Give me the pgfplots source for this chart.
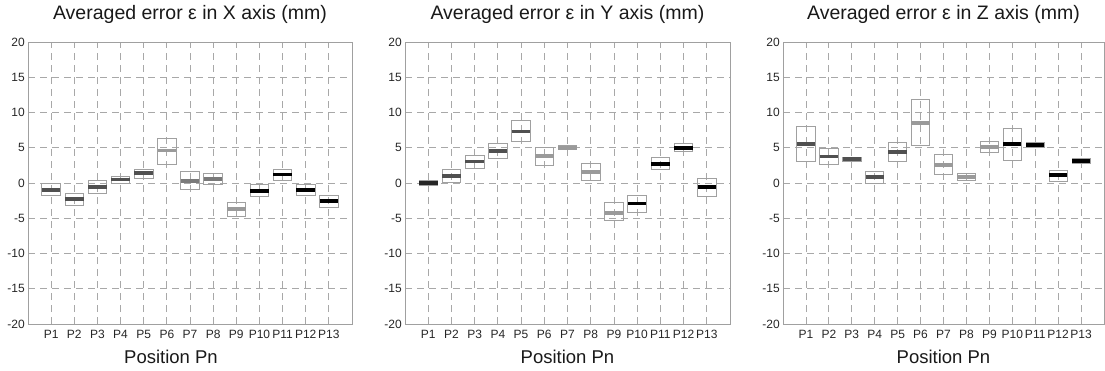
\documentclass[border=0pt]{standalone}
\usepackage{fontspec}
\setmainfont{Liberation Sans}
\usepackage{pgfplots}
\usepgfplotslibrary{statistics}
\pgfplotsset{compat=1.18}
\definecolor{boxgray}{HTML}{A0A0A0}
\definecolor{gridgray}{HTML}{A8A8A8}
\definecolor{mdark}{HTML}{505050}
\definecolor{mmid}{HTML}{7A7A7A}
\definecolor{mlight}{HTML}{9A9A9A}
\definecolor{mblack}{HTML}{000000}
% box: position, lower quartile, median, upper quartile, median colour
\newcommand{\bx}[5]{\addplot[draw=boxgray, line width=0.8pt,
  boxplot prepared={draw direction=y, draw position=#1, lower whisker=#2, lower quartile=#2,
   median=#3, upper quartile=#4, upper whisker=#4, box extend=0.8, whisker extend=0},
  boxplot/every whisker/.style={draw=none},
  boxplot/every median/.style={line width=3.8pt, draw=#5}] coordinates {};}
\pgfplotsset{
  panel/.style={
    anchor=south west, scale only axis, height=282pt,
    xmin=0, xmax=14, ymin=-20, ymax=20,
    xtick={1,...,13},
    xticklabels={P1,P2,P3,P4,P5,P6,P7,P8,P9,P10,P11,P12,P13},
    ytick={-20,-15,...,20},
    yticklabels={-20,-15,-10,-5,0,5,10,15,20},
    grid=major,
    grid style={gridgray, line width=0.8pt, dash pattern=on 7pt off 5pt},
    axis line style={boxgray, line width=0.8pt},
    major tick length=0pt,
    /pgf/number format/assume math mode=true,
    tick label style={font=\fontsize{12}{12}\selectfont, text=black!85},
    xticklabel style={anchor=base, yshift=-14pt, inner sep=0pt},
    yticklabel style={anchor=east, inner sep=0pt, xshift=-3pt},
    title style={at={(0.5,1)}, anchor=base, yshift=17pt, inner sep=0pt,
      font=\fontsize{19.5}{19.5}\selectfont, text=black!90},
    xlabel style={at={(0.5,0)}, anchor=base, yshift=-39pt, inner sep=0pt,
      font=\fontsize{18.5}{18.5}\selectfont, text=black!90},
    xlabel={Position Pn},
    clip=false,
  }
}
\begin{document}
\begin{tikzpicture}[x=1pt,y=1pt]
\path[use as bounding box] (0,0) rectangle (1105,370);
% ---------------- X axis ----------------
\begin{axis}[panel, at={(28pt,46pt)}, width=324pt,
  title={Averaged error ε in X axis (mm)},
  xlabel style={xshift=-19pt}]
\bx{1}{-1.7}{-1.0}{-0.1}{mdark}
\bx{2}{-3.2}{-2.3}{-1.5}{mdark}
\bx{3}{-1.5}{-0.6}{0.4}{mdark}
\bx{4}{-0.05}{0.5}{0.9}{mdark}
\bx{5}{0.7}{1.4}{2.0}{mdark}
\bx{6}{2.6}{4.6}{6.3}{mlight}
\bx{7}{-0.9}{0.3}{1.6}{mmid}
\bx{8}{-0.15}{0.6}{1.3}{mmid}
\bx{9}{-4.8}{-3.7}{-2.7}{mlight}
\bx{10}{-1.95}{-1.1}{-0.25}{mblack}
\bx{11}{0.35}{1.2}{2.0}{mblack}
\bx{12}{-1.8}{-1.0}{-0.15}{mblack}
\bx{13}{-3.4}{-2.5}{-1.7}{mblack}
\end{axis}
% ---------------- Y axis ----------------
\begin{axis}[panel, at={(405pt,46pt)}, width=325pt,
  title={Averaged error ε in Y axis (mm)}]
\bx{1}{-0.3}{0.0}{0.3}{mblack!85}
\bx{2}{0.15}{1.05}{1.95}{mdark}
\bx{3}{2.05}{3.05}{3.95}{mdark}
\bx{4}{3.5}{4.5}{5.65}{mdark}
\bx{5}{5.9}{7.3}{8.9}{mdark}
\bx{6}{2.45}{3.8}{5.05}{mlight}
\bx{7}{4.7}{5.0}{5.3}{mlight}
\bx{8}{0.35}{1.6}{2.75}{mlight}
\bx{9}{-5.3}{-4.2}{-2.8}{mlight}
\bx{10}{-4.1}{-2.9}{-1.75}{mblack}
\bx{11}{1.9}{2.7}{3.6}{mblack}
\bx{12}{4.5}{4.95}{5.55}{mblack}
\bx{13}{-1.85}{-0.55}{0.7}{mblack}
\end{axis}
% ---------------- Z axis ----------------
\begin{axis}[panel, at={(783pt,46pt)}, width=321pt,
  title={Averaged error ε in Z axis (mm)}]
\bx{1}{3.1}{5.5}{8.0}{mdark}
\bx{2}{2.6}{3.75}{4.85}{mdark}
\bx{3}{3.05}{3.4}{3.65}{mdark}
\bx{4}{0.0}{0.8}{1.7}{mdark}
\bx{5}{3.05}{4.4}{5.7}{mdark}
\bx{6}{5.3}{8.55}{11.8}{mlight}
\bx{7}{1.2}{2.6}{4.0}{mlight}
\bx{8}{0.4}{0.8}{1.35}{mlight}
\bx{9}{4.4}{5.15}{5.85}{mlight}
\bx{10}{3.2}{5.5}{7.7}{mblack}
\bx{11}{5.1}{5.4}{5.7}{mblack}
\bx{12}{0.25}{1.15}{1.85}{mblack}
\bx{13}{2.85}{3.15}{3.45}{mblack}
\end{axis}
\end{tikzpicture}
\end{document}
